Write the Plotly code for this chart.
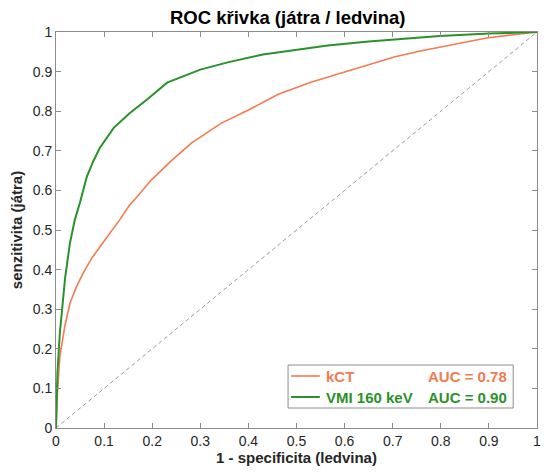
import plotly.graph_objects as go

# Data
fpr_kct = [0, 0.002, 0.008, 0.018, 0.029, 0.042, 0.056, 0.075, 0.097, 0.12, 0.132, 0.153, 0.163, 0.198, 0.24, 0.282,
           0.344, 0.4, 0.462, 0.53, 0.6, 0.65, 0.703, 0.75, 0.798, 0.85, 0.895, 0.95, 1.0]
tpr_kct = [0, 0.07, 0.18, 0.255, 0.315, 0.355, 0.39, 0.43, 0.467, 0.505, 0.525, 0.563, 0.576, 0.626, 0.675, 0.72,
           0.77, 0.803, 0.843, 0.873, 0.899, 0.918, 0.937, 0.95, 0.962, 0.975, 0.985, 0.993, 1.0]

fpr_vmi = [0, 0.001, 0.003, 0.008, 0.013, 0.019, 0.029, 0.039, 0.05, 0.064, 0.078, 0.091, 0.12, 0.153, 0.19, 0.231,
           0.3, 0.359, 0.43, 0.5, 0.565, 0.65, 0.73, 0.798, 0.9, 1.0]
tpr_vmi = [0, 0.06, 0.14, 0.24, 0.31, 0.38, 0.467, 0.525, 0.57, 0.634, 0.675, 0.707, 0.758, 0.795, 0.83, 0.872,
           0.905, 0.924, 0.943, 0.955, 0.966, 0.976, 0.984, 0.99, 0.996, 1.0]

diag = [0, 1]

series_names = ["kCT", "VMI 160 keV"]
auc_labels = ["AUC = 0.78", "AUC = 0.90"]
colors = ["#F37B51", "#2A922A"]

tick_vals = [0, 0.1, 0.2, 0.3, 0.4, 0.5, 0.6, 0.7, 0.8, 0.9, 1]
tick_text = ["0", "0.1", "0.2", "0.3", "0.4", "0.5", "0.6", "0.7", "0.8", "0.9", "1"]

FONT = "Liberation Sans, Arial, sans-serif"

fig = go.Figure()
fig.add_trace(go.Scatter(x=diag, y=diag, mode="lines",
                         line=dict(color="#9a9a9a", width=1, dash="4px,3px"),
                         showlegend=False, hoverinfo="skip"))
fig.add_trace(go.Scatter(x=fpr_kct, y=tpr_kct, mode="lines", name=series_names[0],
                         line=dict(color=colors[0], width=1.6), showlegend=False))
fig.add_trace(go.Scatter(x=fpr_vmi, y=tpr_vmi, mode="lines", name=series_names[1],
                         line=dict(color=colors[1], width=2), showlegend=False))

axis_common = dict(
    range=[0, 1], tickvals=tick_vals, ticktext=tick_text,
    ticks="inside", ticklen=5, tickcolor="#8c8c8c", tickwidth=1,
    showline=True, linecolor="#8c8c8c", linewidth=1, mirror="ticks",
    showgrid=False, zeroline=False,
    tickfont=dict(family=FONT, size=14, color="#262626"),
)

fig.update_layout(
    width=547, height=474,
    margin=dict(l=56, r=6, t=32, b=46),
    paper_bgcolor="white", plot_bgcolor="white",
    title=dict(text="<b>ROC křivka (játra / ledvina)</b>", x=0.526, xanchor="center",
               y=0.962, yanchor="middle",
               font=dict(family=FONT, size=18.5, color="#000000")),
    xaxis=dict(**axis_common,
               title=dict(text="<b>1 - specificita (ledvina)</b>", standoff=4,
                          font=dict(family=FONT, size=15, color="#262626"))),
    yaxis=dict(**axis_common,
               title=dict(text="<b>senzitivita (játra)</b>", standoff=6,
                          font=dict(family=FONT, size=15, color="#262626"))),
    showlegend=False,
)

# Custom legend box (paper coordinates)
W, H = 547, 474
l, r, t, b = 56, 6, 32, 46
pw, ph = W - l - r, H - t - b
def px(xp):
    return (xp - l) / pw
def py(yp):
    return (H - b - yp) / ph

fig.add_shape(type="rect", xref="paper", yref="paper",
              x0=px(290), x1=px(517), y0=py(408), y1=py(365),
              line=dict(color="#8c8c8c", width=1), fillcolor="white", layer="above")
rows_y = [376, 397]
for i in range(2):
    fig.add_shape(type="line", xref="paper", yref="paper",
                  x0=px(293), x1=px(322), y0=py(rows_y[i]), y1=py(rows_y[i]),
                  line=dict(color=colors[i], width=1.6 if i == 0 else 2), layer="above")
    fig.add_annotation(xref="paper", yref="paper", x=px(326), y=py(rows_y[i]),
                       xanchor="left", yanchor="middle", showarrow=False,
                       text="<b>" + series_names[i] + "</b>",
                       font=dict(family=FONT, size=15, color=colors[i]))
    fig.add_annotation(xref="paper", yref="paper", x=px(513), y=py(rows_y[i]),
                       xanchor="right", yanchor="middle", showarrow=False,
                       text="<b>" + auc_labels[i] + "</b>",
                       font=dict(family=FONT, size=15, color=colors[i]))

fig.write_html("out.html")
